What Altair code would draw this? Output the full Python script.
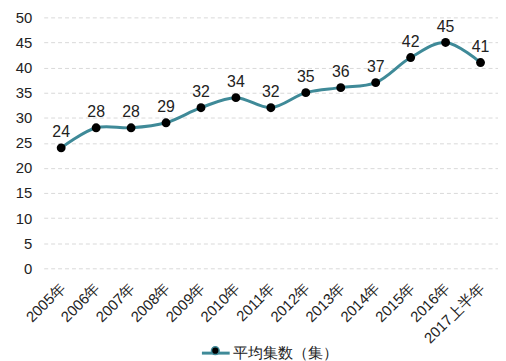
import altair as alt
import pandas as pd

years = ["2005年", "2006年", "2007年", "2008年", "2009年", "2010年", "2011年",
         "2012年", "2013年", "2014年", "2015年", "2016年", "2017上半年"]
values = [24, 28, 28, 29, 32, 34, 32, 35, 36, 37, 42, 45, 41]
series = "平均集数（集）"

df = pd.DataFrame({"year": years, "value": values, "series": series})

FONT = "Liberation Sans"
TEAL = "#3f8a98"

x = alt.X("year:N", sort=years, title=None,
          scale=alt.Scale(paddingInner=1, paddingOuter=0.5),
          axis=alt.Axis(labelAngle=-45, ticks=False, domain=False, grid=False,
                        labelFontSize=15, labelColor="#222", labelPadding=12, labelOffset=-4,
                        labelFont=FONT))
y = alt.Y("value:Q", title=None,
          scale=alt.Scale(domain=[0, 50], nice=False),
          axis=alt.Axis(values=list(range(0, 51, 5)), ticks=False, domain=False,
                        gridDash=[4, 3], gridColor="#d9d9d9", labelFontSize=15,
                        labelColor="#222", labelPadding=12, labelFont=FONT))

line = alt.Chart(df).mark_line(interpolate="catmull-rom", strokeWidth=3).encode(
    x=x, y=y,
    stroke=alt.Stroke("series:N", scale=alt.Scale(range=[TEAL]),
                      legend=alt.Legend(title=None, orient="none", legendX=158, legendY=323,
                                        symbolType="stroke", symbolStrokeWidth=3, symbolSize=784,
                                        labelFontSize=15, labelFont=FONT, labelColor="#222",
                                        labelOffset=2)),
)
pts = alt.Chart(df).mark_point(filled=True, size=80, opacity=1).encode(
    x=x, y=y,
    fill=alt.Fill("series:N", scale=alt.Scale(range=["#000000"]),
                  legend=alt.Legend(title=None, orient="none", legendX=168, legendY=331,
                                    symbolType="circle", symbolSize=60,
                                    labelExpr="''")),
)
labels = alt.Chart(df).mark_text(dy=-16, fontSize=16, font=FONT, color="#222").encode(
    x=x, y=y, text="value:Q"
)

chart = alt.layer(line, pts, labels).resolve_legend(fill="independent", stroke="independent").properties(
    width=458, height=253,
    autosize=alt.AutoSizeParams(type="none"),
    padding={"left": 36, "top": 8, "right": 0, "bottom": 92},
).configure_view(stroke=None).configure_legend(symbolStrokeColor=TEAL)

chart.save("out.html", embed_options={"renderer": "svg", "actions": False})
